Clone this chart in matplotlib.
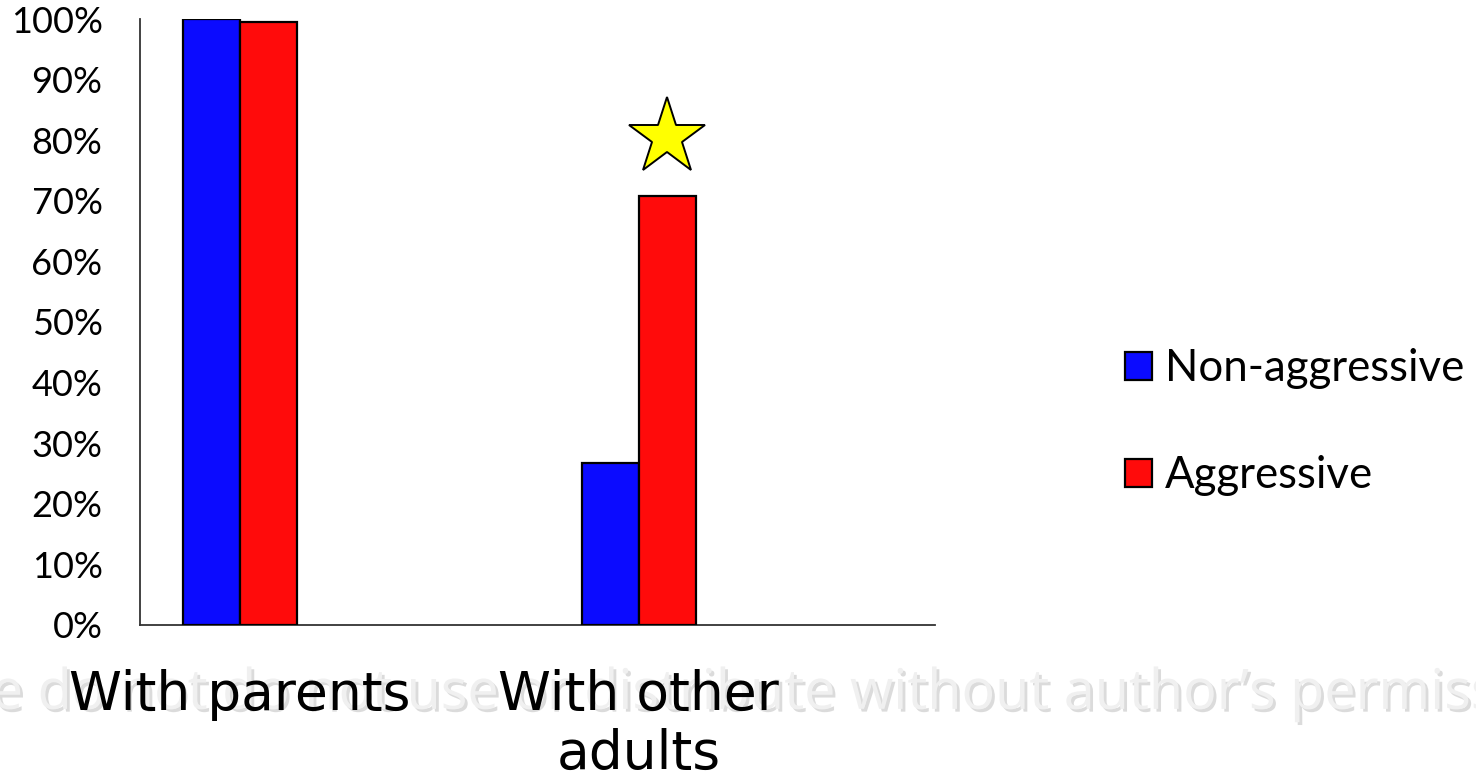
import matplotlib
matplotlib.use("Agg")
import matplotlib.pyplot as plt
import matplotlib.patheffects as pe
import numpy as np

# Data
categories = ["With parents", "With other\nadults"]
series_names = ["Non-aggressive", "Aggressive"]
non_aggressive = [100.0, 26.7]
aggressive = [99.5, 70.8]
y_ticks = [0, 10, 20, 30, 40, 50, 60, 70, 80, 90, 100]
y_tick_labels = [f"{v}%" for v in y_ticks]
star_level = 80.5  # significance marker above the aggressive bar of the second group

colors = ["#0b0bff", "#ff0b0b"]

fig = plt.figure(figsize=(14.76, 7.82), dpi=100)
fig.patch.set_facecolor("white")
ax = fig.add_axes([0.0949, 0.2008, 0.5386, 0.7749])
ax.patch.set_alpha(0)
ax.set_zorder(2)

x = np.arange(len(categories))
w = 0.143
ax.bar(x - w / 2, non_aggressive, w, color=colors[0], edgecolor="black",
       linewidth=1.6, label=series_names[0], zorder=3)
ax.bar(x + w / 2, aggressive, w, color=colors[1], edgecolor="black",
       linewidth=1.6, label=series_names[1], zorder=3)

# Significance star
ax.plot([x[1] + w / 2], [star_level], marker="*", markersize=58,
        markerfacecolor="#ffff00", markeredgecolor="black",
        markeredgewidth=1.4, linestyle="none", zorder=4, clip_on=False)

ax.set_xlim(-0.251, 1.744)
ax.set_ylim(0, 100)
ax.set_yticks(y_ticks)
ax.set_yticklabels(y_tick_labels, fontfamily="Lato", fontsize=26)
ax.set_xticks(x)
ax.set_xticklabels(categories, fontfamily="DejaVu Sans", fontsize=38.5,
                   linespacing=1.15)
ax.tick_params(axis="y", length=0, pad=27)
ax.tick_params(axis="x", length=0, pad=32)

for s in ["top", "right"]:
    ax.spines[s].set_visible(False)
for s in ["left", "bottom"]:
    ax.spines[s].set_color("#333333")
    ax.spines[s].set_linewidth(1.3)

# Legend
handles, labels = ax.get_legend_handles_labels()
leg = fig.legend(handles, labels, loc="center left",
                 bbox_to_anchor=(0.762, 0.46), frameon=False,
                 prop={"family": "Lato", "size": 31.5},
                 handlelength=0.62, handleheight=0.62, handletextpad=0.3,
                 labelspacing=1.5, borderpad=0, borderaxespad=0)

# Watermark
fig.text(0.486, 0.0935, "Please do not do not use or distribute without author\u2019s permission",
         ha="center", va="baseline", fontfamily="Open Sans", fontsize=40.2,
         color="#f0f0f0", zorder=1,
         path_effects=[pe.withSimplePatchShadow(offset=(2, -2),
                                                shadow_rgbFace="#9a9a9a",
                                                alpha=0.35)])

fig.savefig("out.png", dpi=100, facecolor="white")
